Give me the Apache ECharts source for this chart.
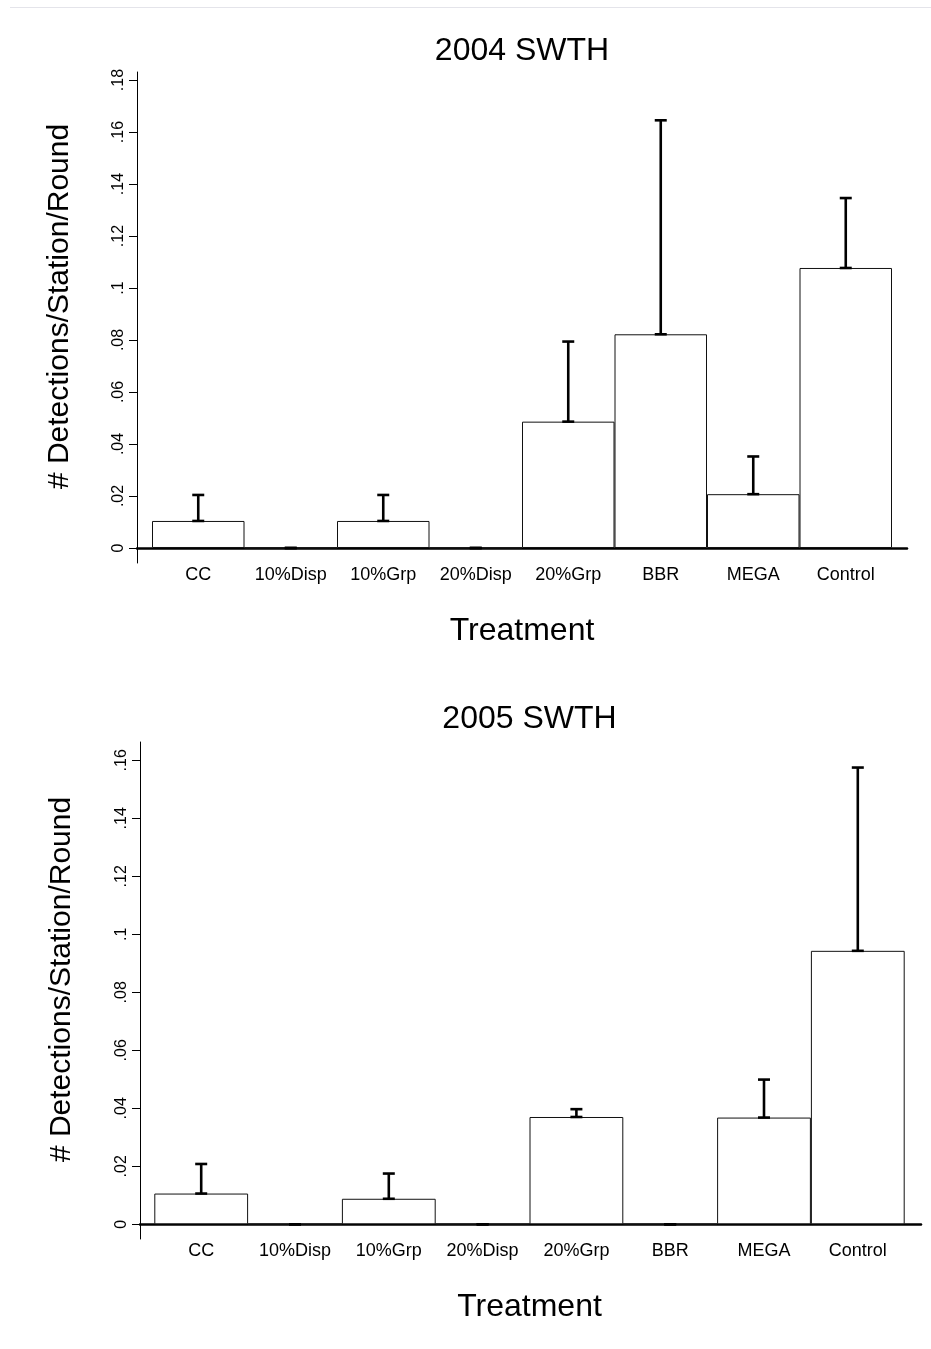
<!DOCTYPE html>
<html>
<head>
<meta charset="utf-8">
<script src="https://cdn.jsdelivr.net/npm/echarts@6.0.0/dist/echarts.min.js"></script>
<style>
  html, body { margin: 0; padding: 0; background: #fff; }
  #container { width: 931px; height: 1349px; }
  #topline { position: absolute; left: 10px; right: 0; top: 7px; height: 1px; background: #e4e4ea; }
</style>
</head>
<body>
<div id="topline"></div>
<div id="container"></div>
<script>
// categories and values
var categories = ['CC', '10%Disp', '10%Grp', '20%Disp', '20%Grp', 'BBR', 'MEGA', 'Control'];

var mean2004  = [0.0104, 0, 0.0104, 0, 0.0486, 0.0822, 0.0207, 0.1077];
var upper2004 = [0.0204, 0, 0.0204, 0, 0.0794, 0.1645, 0.0352, 0.1346];

var mean2005  = [0.0106, 0, 0.0088, 0, 0.0370, 0, 0.0368, 0.0943];
var upper2005 = [0.0208, 0, 0.0175, 0, 0.0397, 0, 0.0499, 0.1575];

var ticks2004 = [0, 0.02, 0.04, 0.06, 0.08, 0.1, 0.12, 0.14, 0.16, 0.18];
var ticks2005 = [0, 0.02, 0.04, 0.06, 0.08, 0.1, 0.12, 0.14, 0.16];

// axis extents (the axis line runs a bit past the ticks, Stata style)
var range2004 = [-0.00577, 0.18308];
var range2005 = [-0.00507, 0.16631];

var FONT = 'Liberation Sans, Arial, Helvetica, sans-serif';

function tickText(v) {
    if (v === 0) return '0';
    return String(+v.toFixed(2)).replace(/^0\./, '.');
}

// layout of each panel: axis frame (A) and bar band (B)
var panels = [
    { title: '2004 SWTH', mean: mean2004, upper: upper2004, ticks: ticks2004, range: range2004,
      top: 72, height: 491, axisLeft: 137, axisWidth: 770, barLeft: 152, barWidth: 740, titleTop: 35, nameGapY: 62 },
    { title: '2005 SWTH', mean: mean2005, upper: upper2005, ticks: ticks2005, range: range2005,
      top: 742, height: 497, axisLeft: 140, axisWidth: 781, barLeft: 154.3, barWidth: 750.4, titleTop: 703, nameGapY: 63 }
];

function errorItem(params, api) {
    var lo = api.coord([api.value(0), api.value(1)]);
    var hi = api.coord([api.value(0), api.value(2)]);
    var cap = 6;
    var st = { stroke: '#000', lineWidth: 2.6 };
    return {
        type: 'group',
        children: [
            { type: 'line', shape: { x1: lo[0], y1: lo[1], x2: hi[0], y2: hi[1] }, style: st },
            { type: 'line', shape: { x1: hi[0] - cap, y1: hi[1], x2: hi[0] + cap, y2: hi[1] }, style: st },
            { type: 'line', shape: { x1: lo[0] - cap, y1: lo[1], x2: lo[0] + cap, y2: lo[1] }, style: st }
        ]
    };
}

var option = { animation: false, title: [], grid: [], xAxis: [], yAxis: [], series: [] };

panels.forEach(function (p, k) {
    var gA = k * 2, gB = k * 2 + 1;
    option.title.push({
        text: p.title, left: p.barLeft + p.barWidth / 2, top: p.titleTop, textAlign: 'center', padding: 0,
        textStyle: { fontSize: 32, fontWeight: 'normal', color: '#000', fontFamily: FONT }
    });
    option.grid.push(
        { left: p.axisLeft, top: p.top, width: p.axisWidth, height: p.height, outerBoundsMode: 'none' },
        { left: p.barLeft, top: p.top, width: p.barWidth, height: p.height, outerBoundsMode: 'none' }
    );
    option.xAxis.push(
        {
            gridIndex: gA, type: 'value', min: 0, max: 1,
            axisLine: { show: true, onZero: true, lineStyle: { color: '#000', width: 2.5 } },
            axisTick: { show: false }, axisLabel: { show: false }, splitLine: { show: false }
        },
        {
            gridIndex: gB, type: 'category', data: categories,
            axisLine: { show: false, onZero: false }, axisTick: { show: false },
            axisLabel: { margin: 3, fontSize: 18, color: '#000', fontFamily: FONT, interval: 0 },
            name: 'Treatment', nameLocation: 'middle', nameGap: 52,
            nameTextStyle: { fontSize: 32, color: '#000', fontFamily: FONT }
        }
    );
    option.yAxis.push(
        {
            gridIndex: gA, type: 'value', min: p.range[0], max: p.range[1],
            axisLine: { show: true, onZero: false, lineStyle: { color: '#000', width: 1 } },
            axisTick: { show: true, length: 8, customValues: p.ticks, lineStyle: { color: '#000' } },
            axisLabel: { customValues: p.ticks, rotate: 90, margin: 10, fontSize: 16, color: '#000',
                         fontFamily: FONT, formatter: tickText },
            splitLine: { show: false },
            name: '# Detections/Station/Round', nameLocation: 'middle', nameGap: p.nameGapY,
            nameTextStyle: { fontSize: 30, color: '#000', fontFamily: FONT, padding: [0, 0, 0, 22] }
        },
        { gridIndex: gB, type: 'value', min: p.range[0], max: p.range[1], show: false }
    );
    option.series.push(
        {
            type: 'bar', xAxisIndex: k * 2 + 1, yAxisIndex: k * 2 + 1,
            data: p.mean, barCategoryGap: '0%', silent: true,
            itemStyle: { color: '#fff', borderColor: '#111', borderWidth: 1 }
        },
        {
            type: 'custom', xAxisIndex: k * 2 + 1, yAxisIndex: k * 2 + 1, silent: true, z: 5,
            data: categories.map(function (c, i) { return [i, p.mean[i], p.upper[i]]; }),
            renderItem: errorItem
        }
    );
});

var myChart = echarts.init(document.getElementById('container'));
myChart.setOption(option);
</script>
</body>
</html>
